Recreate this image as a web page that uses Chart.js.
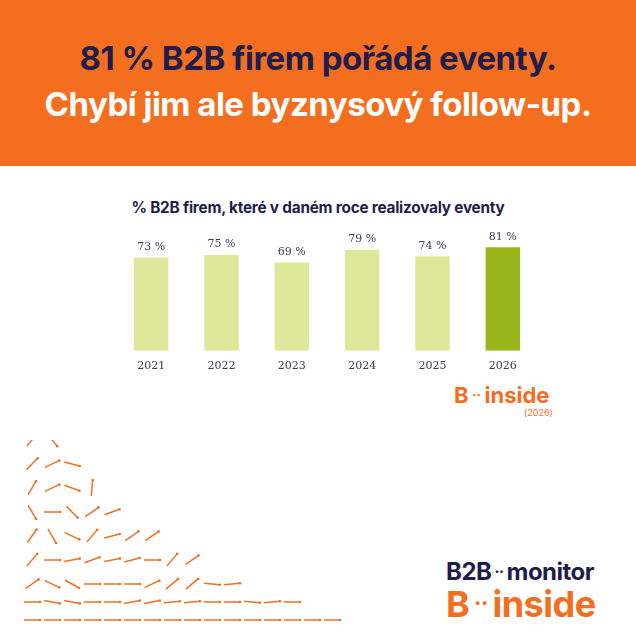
<!DOCTYPE html>
<html>
<head>
<meta charset="utf-8">
<script src="https://cdn.jsdelivr.net/npm/chart.js@4"></script>
<style>
  body { margin: 0; width: 636px; height: 636px; background: #fff; position: relative; overflow: hidden; font-family: Inter, "Open Sans", sans-serif; }
  .head { position: absolute; left: 0; top: 0; width: 636px; height: 166px; background: #F36F1F; }
  .head div { position: absolute; left: 0; width: 636px; text-align: center; color: #1E1D4C; font-weight: 700; font-size: 33px; letter-spacing: -0.5px; }
  .sub { position: absolute; left: 0; width: 636px; top: 198px; text-align: center; color: #1E1D4C; font-weight: 700; font-size: 15.3px; letter-spacing: -0.2px; }
  .chartbox { position: absolute; left: 116px; top: 223px; width: 422px; height: 151px; }
  .logo { position: absolute; font-weight: 700; white-space: nowrap; }
  #deco { position: absolute; left: 0; top: 440px; }
</style>
</head>
<body>
<div class="head">
  <div style="top:38px">81 % B2B firem pořádá eventy.</div>
  <div style="top:84px;color:#fff">Chybí jim ale byznysový follow-up.</div>
</div>
<div class="sub">% B2B firem, které v daném roce realizovaly eventy</div>
<div class="chartbox"><canvas id="chart"></canvas></div>
<div class="logo" style="left:454px;top:382px;color:#F36F1F;font-size:22px">B<span style="font-size:14px;vertical-align:3px"> ·· </span>inside</div>
<div class="logo" style="left:524px;top:407px;color:#F36F1F;font-size:9px;font-weight:400">(2026)</div>
<div class="logo" style="left:446px;top:557px;color:#1E1D4C;font-size:24px;letter-spacing:-0.5px">B2B<span style="font-size:15px;vertical-align:3px"> ·· </span>monitor</div>
<div class="logo" style="left:446px;top:582px;color:#F36F1F;font-size:36px;letter-spacing:-0.5px">B<span style="font-size:22px;vertical-align:6px"> ·· </span>inside</div>
<canvas id="deco" width="420" height="196"></canvas>
<script>
const years = ["2021", "2022", "2023", "2024", "2025", "2026"];
const shares = [73, 75, 69, 79, 74, 81];
const barColors = ["#DDE89A", "#DDE89A", "#DDE89A", "#DDE89A", "#DDE89A", "#9BB51C"];

const valueLabels = {
  id: "valueLabels",
  afterDatasetsDraw(chart) {
    const ctx = chart.ctx;
    ctx.save();
    ctx.font = "11px 'DejaVu Serif', serif";
    ctx.fillStyle = "#3A3960";
    ctx.textAlign = "center";
    ctx.textBaseline = "bottom";
    chart.getDatasetMeta(0).data.forEach((bar, i) => {
      ctx.fillText(shares[i] + " %", bar.x, bar.y - 5);
    });
    ctx.restore();
  }
};

new Chart(document.getElementById("chart"), {
  type: "bar",
  data: {
    labels: years,
    datasets: [{ data: shares, backgroundColor: barColors, barPercentage: 0.49, categoryPercentage: 1 }]
  },
  options: {
    responsive: true,
    maintainAspectRatio: false,
    animation: false,
    layout: { padding: 0 },
    plugins: { legend: { display: false }, tooltip: { enabled: false } },
    scales: {
      x: {
        grid: { display: false },
        border: { display: false },
        ticks: { color: "#3A3960", font: { family: "'DejaVu Serif', serif", size: 11 }, padding: 1 }
      },
      y: { display: false, min: 0, max: 100 }
    }
  },
  plugins: [valueLabels]
});

// decorative arrow field (bottom-left ornament)
const arrowRows = [
  [0, 0, 0, 0, 0, 0, 0, 0, 0, 0, 0, 0, 0, 0, 0, 0],
  [0, 10, 10, 0, 0, -10, -10, -5, -5, 0, 0, 5, -5, 0],
  [-35, 25, 30, 0, 0, 0, -25, -40, -40, 5, -5],
  [-50, 0, -10, -20, -10, -15, 0, -50, -35],
  [-55, 60, 25, -50, -15, -35, -35],
  [60, 0, 45, -35, -20],
  [-60, -25, 20, -85],
  [-45, -25, 15],
  [-50, 50],
  [-100]
];
const dctx = document.getElementById("deco").getContext("2d");
dctx.strokeStyle = "#F36F1F";
dctx.fillStyle = "#F36F1F";
dctx.lineWidth = 1.5;
arrowRows.forEach((row, r) => {
  row.forEach((ang, c) => {
    const cx = 32 + c * 20, cy = 180 - r * 24 + (r > 1 ? 12 : r * 6);
    const a = ang * Math.PI / 180, L = 8;
    const x0 = cx - L * Math.cos(a), y0 = cy - L * Math.sin(a);
    const x1 = cx + L * Math.cos(a), y1 = cy + L * Math.sin(a);
    dctx.beginPath(); dctx.moveTo(x0, y0); dctx.lineTo(x1, y1); dctx.stroke();
    dctx.beginPath(); dctx.arc(x1, y1, 1.3, 0, Math.PI * 2); dctx.fill();
  });
});
</script>
</body>
</html>
